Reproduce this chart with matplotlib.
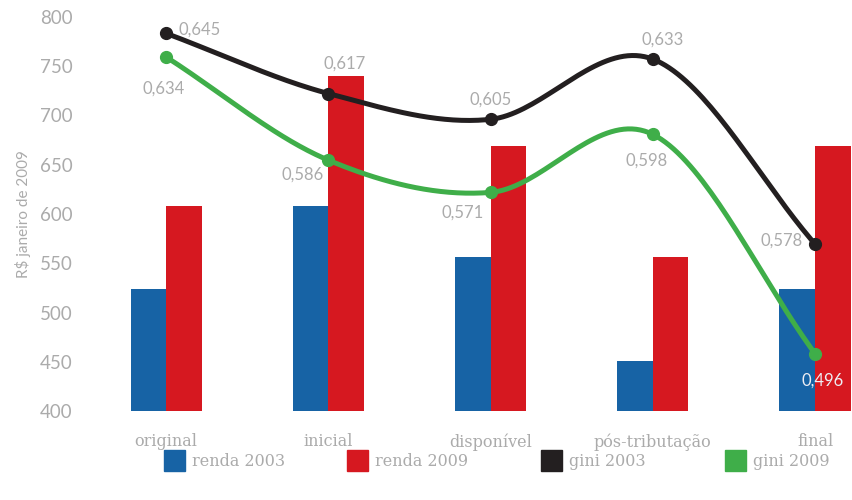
import matplotlib
matplotlib.use("Agg")
import matplotlib.pyplot as plt
from matplotlib.patches import Rectangle
import numpy as np

# dados
categorias = ["original", "inicial", "disponível", "pós-tributação", "final"]
renda_2003 = [524, 608, 556, 451, 524]
renda_2009 = [608, 740, 669, 556, 669]
gini_2003 = [0.645, 0.617, 0.605, 0.633, 0.547]
gini_2009 = [0.634, 0.586, 0.571, 0.598, 0.496]
rotulos_2003 = ["0,645", "0,617", "0,605", "0,633", "0,578"]
rotulos_2009 = ["0,634", "0,586", "0,571", "0,598", "0,496"]
yticks = [400, 450, 500, 550, 600, 650, 700, 750, 800]

azul = "#1763a5"
vermelho = "#d61820"
preto = "#231f20"
verde = "#3fae49"
cinza = "#ababab"

num_font = "Lato"
cat_font = "DejaVu Serif"


def catmull_rom(xs, ys, n=40):
    # curva suave passando pelos pontos
    xs = np.asarray(xs, float)
    ys = np.asarray(ys, float)
    px = np.concatenate([[2 * xs[0] - xs[1]], xs, [2 * xs[-1] - xs[-2]]])
    py = np.concatenate([[2 * ys[0] - ys[1]], ys, [2 * ys[-1] - ys[-2]]])
    out_x, out_y = [], []
    for i in range(1, len(px) - 2):
        t = np.linspace(0, 1, n)
        p0, p1, p2, p3 = py[i - 1], py[i], py[i + 1], py[i + 2]
        y = 0.5 * ((2 * p1) + (-p0 + p2) * t + (2 * p0 - 5 * p1 + 4 * p2 - p3) * t ** 2
                   + (-p0 + 3 * p1 - 3 * p2 + p3) * t ** 3)
        x = px[i] + (px[i + 1] - px[i]) * t
        out_x.extend(x)
        out_y.extend(y)
    return np.array(out_x), np.array(out_y)


fig = plt.figure(figsize=(8.52, 5.0), dpi=100)
ax = fig.add_axes([85 / 852, 89 / 500, 767 / 852, 394 / 500])

x = np.arange(len(categorias))
w = 0.219
ax.bar(x - w / 2, np.array(renda_2003) - 400, w, bottom=400, color=azul, zorder=2)
ax.bar(x + w / 2, np.array(renda_2009) - 400, w, bottom=400, color=vermelho, zorder=2)

ax.set_xlim(-0.5, 4.228)
ax.set_ylim(400, 800)
ax.set_yticks(yticks)
ax.set_yticklabels([str(t) for t in yticks], fontsize=13.5, color=cinza,
                   family=num_font)
ax.set_xticks(x)
ax.set_xticklabels(categorias, fontsize=11.5, color=cinza, family=cat_font)
ax.tick_params(axis="both", length=0)
ax.tick_params(axis="y", pad=9)
ax.tick_params(axis="x", pad=16)
for s in ax.spines.values():
    s.set_visible(False)
ax.set_ylabel("R$ janeiro de 2009", fontsize=11, color=cinza, family=num_font,
              labelpad=6)

ax2 = ax.twinx()
ax2.set_ylim(0.4693, 0.6526)
ax2.axis("off")

cx, cy = catmull_rom(x, gini_2003)
ax2.plot(cx, cy, color=preto, lw=3.6, zorder=4, solid_capstyle="round")
ax2.plot(x, gini_2003, "o", color=preto, ms=8.5, zorder=5)
cx, cy = catmull_rom(x, gini_2009)
ax2.plot(cx, cy, color=verde, lw=3.6, zorder=4, solid_capstyle="round")
ax2.plot(x, gini_2009, "o", color=verde, ms=8.5, zorder=5)

# rótulos de valores (deslocamento em pixels)
off_2003 = [(12, 4, "left"), (16, 30, "center"), (0, 20, "center"), (10, 20, "center"), (-12, 3, "right")]
off_2009 = [(-2, -32, "center"), (-26, -14, "center"), (-28, -20, "center"), (-6, -26, "center"), (8, -27, "center")]
for i in range(len(x)):
    dx, dy, ha = off_2003[i]
    ax2.annotate(rotulos_2003[i], (x[i], gini_2003[i]), xytext=(dx * 0.72, dy * 0.72),
                 textcoords="offset points", ha=ha, va="center", fontsize=12,
                 color=cinza, family=num_font, zorder=6)
    dx, dy, ha = off_2009[i]
    cor = "#eeeef4" if i == 4 else cinza
    ax2.annotate(rotulos_2009[i], (x[i], gini_2009[i]), xytext=(dx * 0.72, dy * 0.72),
                 textcoords="offset points", ha=ha, va="center", fontsize=12,
                 color=cor, family=num_font, zorder=6)

# legenda
legenda = [("renda 2003", azul, 164), ("renda 2009", vermelho, 347),
           ("gini 2003", preto, 541), ("gini 2009", verde, 725)]
for nome, cor, px in legenda:
    fig.patches.append(Rectangle((px / 852, (500 - 471) / 500), 21 / 852, 21 / 500,
                                 transform=fig.transFigure, color=cor))
    fig.text((px + 28) / 852, (500 - 461) / 500, nome, fontsize=11.5, color=cinza,
             family=cat_font, va="center", ha="left")

fig.savefig("out.png", dpi=100)
